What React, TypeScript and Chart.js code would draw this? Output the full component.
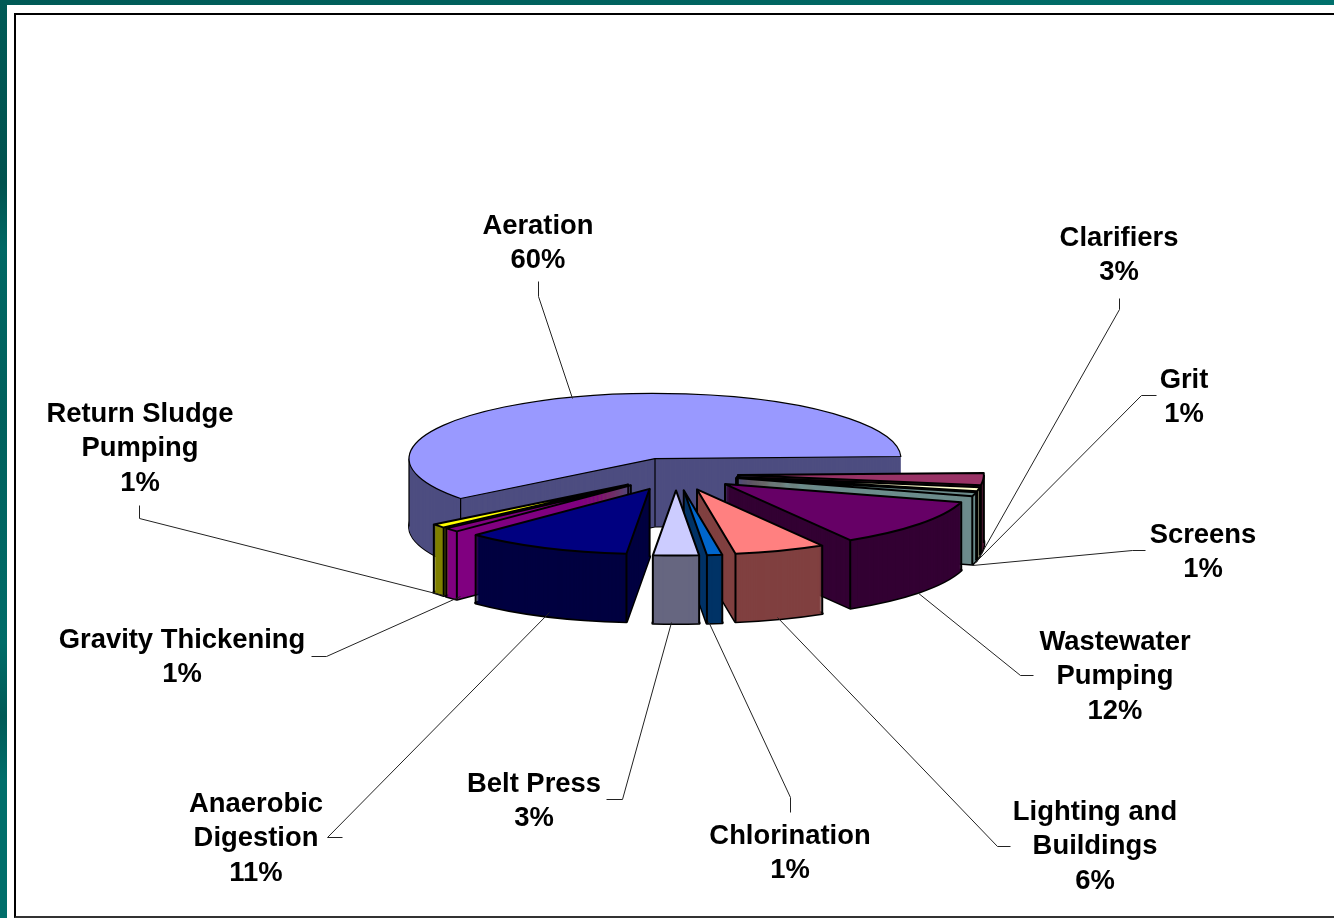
import React, { useEffect, useRef } from "react";
import { Chart, registerables } from "chart.js";

Chart.register(...registerables);

const categories = ["Aeration", "Clarifiers", "Grit", "Screens", "Wastewater Pumping", "Lighting and Buildings", "Chlorination", "Belt Press", "Anaerobic Digestion", "Gravity Thickening", "Return Sludge Pumping"];
const values = [60, 3, 1, 1, 12, 6, 1, 3, 11, 1, 1];
const topColors = ["#9999FF", "#993366", "#FFFFCC", "#6C8C8C", "#660066", "#FF8080", "#0066CC", "#CCCCFF", "#000080", "#800080", "#FFFF00"];
const sideColors = ["#4D4D80", "#4D1A33", "#808066", "#6C8C8C", "#330033", "#804040", "#003366", "#666680", "#000040", "#800080", "#808000"];

const labelWraps = [["Aeration"], ["Clarifiers"], ["Grit"], ["Screens"], ["Wastewater", "Pumping"], ["Lighting and", "Buildings"], ["Chlorination"], ["Belt Press"], ["Anaerobic", "Digestion"], ["Gravity Thickening"], ["Return Sludge", "Pumping"]];
const labelCenters = [[538, 226], [1119, 238], [1184, 380], [1203, 535], [1115, 642], [1095, 812], [790, 836], [534, 784], [256, 804], [182, 640], [140, 414]];
const leaders = [
  [[538, 281], [538, 296], [572, 398]],
  [[1119, 298], [1119, 309], [976, 562]],
  [[1156, 395], [1141, 395], [974, 563]],
  [[1145, 550], [1132, 550], [972, 565]],
  [[1033, 675], [1020, 675], [917, 592]],
  [[1010, 846], [997, 846], [777, 617]],
  [[790, 812], [790, 797], [708, 621]],
  [[606, 799], [622, 799], [671, 622]],
  [[342, 837], [327, 837], [549, 612]],
  [[311, 656], [326, 656], [460, 596]],
  [[139, 505], [139, 518], [443, 595]],
];

const SQUASH = 0.265;
const DEPTH = 68;
const EXPLODE = 62;
const RADIUS = 246;
const ROTATION = 232.2;
const LINE_H = 34.6;
const FONT = "bold 27.4px 'Liberation Sans', Arial, sans-serif";

const pie3d = {
  id: "pie3d",
  beforeDatasetsDraw(chart: any) {
    const ctx = chart.ctx;
    const arcs: any[] = chart.getDatasetMeta(0).data;
    const order = arcs.map((_, i) => i).sort((a, b) => {
      const ma = (arcs[a].startAngle + arcs[a].endAngle) / 2;
      const mb = (arcs[b].startAngle + arcs[b].endAngle) / 2;
      return Math.sin(ma) - Math.sin(mb);
    });

    ctx.save();
    ctx.lineJoin = "round";
    ctx.strokeStyle = "#000";

    for (const i of order) {
      const arc = arcs[i];
      const { x, y, startAngle: s, endAngle: e, outerRadius: r } = arc;
      const mid = (s + e) / 2;
      const tx = x + Math.cos(mid) * EXPLODE;
      const ty = y + Math.sin(mid) * EXPLODE * SQUASH;
      const lw = i === 0 ? 1.2 : 2;

      const place = (dz: number) => {
        ctx.translate(tx, ty + dz);
        ctx.scale(1, SQUASH);
        ctx.translate(-x, -y);
      };
      const paint = (dz: number, color: string) => {
        const original = arc.options;
        const o = Object.create(original);
        o.backgroundColor = color;
        arc.options = o;
        ctx.save();
        place(dz);
        arc.draw(ctx);
        ctx.restore();
        arc.options = original;
      };
      const outline = (dz: number, width: number) => {
        ctx.save();
        place(dz);
        ctx.beginPath();
        ctx.moveTo(x, y);
        ctx.arc(x, y, r, s, e);
        ctx.closePath();
        ctx.restore();
        ctx.lineWidth = width;
        ctx.stroke();
      };
      const vertical = (a: number | null) => {
        const px = a === null ? tx : tx + Math.cos(a) * r;
        const py = a === null ? ty : ty + Math.sin(a) * r * SQUASH;
        ctx.beginPath();
        ctx.moveTo(px, py);
        ctx.lineTo(px, py + DEPTH);
        ctx.lineWidth = lw;
        ctx.stroke();
      };

      outline(DEPTH, lw * 1.5);
      for (let d = DEPTH; d > 0; d--) paint(d, sideColors[i]);

      const TAU = Math.PI * 2;
      const contains = (a: number) => {
        const k = Math.ceil((s - a) / TAU);
        return a + k * TAU <= e;
      };
      if (!contains(Math.PI / 2)) vertical(null);
      if (Math.sin(s) > -0.02) vertical(s);
      if (Math.sin(e) > -0.02) vertical(e);
      if (contains(Math.PI)) vertical(Math.PI);
      if (contains(0)) vertical(0);

      paint(0, topColors[i]);
      outline(0, lw);
    }
    ctx.restore();
    return false;
  },
  afterDraw(chart: any) {
    const ctx = chart.ctx;
    ctx.save();
    ctx.strokeStyle = "#222";
    ctx.lineWidth = 1;
    for (const path of leaders) {
      ctx.beginPath();
      path.forEach(([px, py], k) => (k ? ctx.lineTo(px + 0.5, py + 0.5) : ctx.moveTo(px + 0.5, py + 0.5)));
      ctx.stroke();
    }
    ctx.font = FONT;
    ctx.fillStyle = "#000";
    ctx.textAlign = "center";
    ctx.textBaseline = "middle";
    categories.forEach((_, i) => {
      const lines = [...labelWraps[i], `${values[i]}%`];
      const [cx, cy] = labelCenters[i];
      lines.forEach((t, k) => ctx.fillText(t, cx, cy + k * LINE_H));
    });
    ctx.restore();
  },
};

export default function App() {
  const ref = useRef<HTMLCanvasElement>(null);
  useEffect(() => {
    const chart = new Chart(ref.current as HTMLCanvasElement, {
      type: "pie",
      data: {
        labels: categories,
        datasets: [{ data: values, backgroundColor: topColors, borderWidth: 0, hoverOffset: 0, offset: 0 }],
      },
      options: {
        animation: false,
        responsive: false,
        devicePixelRatio: 1,
        events: [],
        rotation: ROTATION,
        radius: RADIUS,
        layout: { padding: { left: 30, right: 12, top: 30, bottom: 0 } },
        plugins: { legend: { display: false }, tooltip: { enabled: false }, title: { display: false } },
      },
      plugins: [pie3d],
    } as any);
    return () => chart.destroy();
  }, []);

  return (
    <div style={{ position: "absolute", left: 0, top: 0, width: 1334, height: 918, background: "#fff", overflow: "hidden" }}>
      <div style={{ position: "absolute", left: 0, top: 0, width: 1334, height: 5, background: "linear-gradient(90deg,#005a56 0%,#00635f 50%,#00706c 100%)" }} />
      <div style={{ position: "absolute", left: 0, top: 0, width: 7, height: 918, background: "linear-gradient(180deg,#005a56 0%,#00524e 20%,#006864 27%,#00605c 45%,#006c68 70%,#005a56 78%,#006e6a 85%,#006e6a 100%)" }} />
      <div style={{ position: "absolute", left: 14, top: 13, right: 0, bottom: 0, borderLeft: "2px solid #000", borderTop: "2px solid #000", borderBottom: "2px solid #333" }} />
      <canvas ref={ref} width={1334} height={918} style={{ position: "absolute", left: 0, top: 0 }} />
    </div>
  );
}
